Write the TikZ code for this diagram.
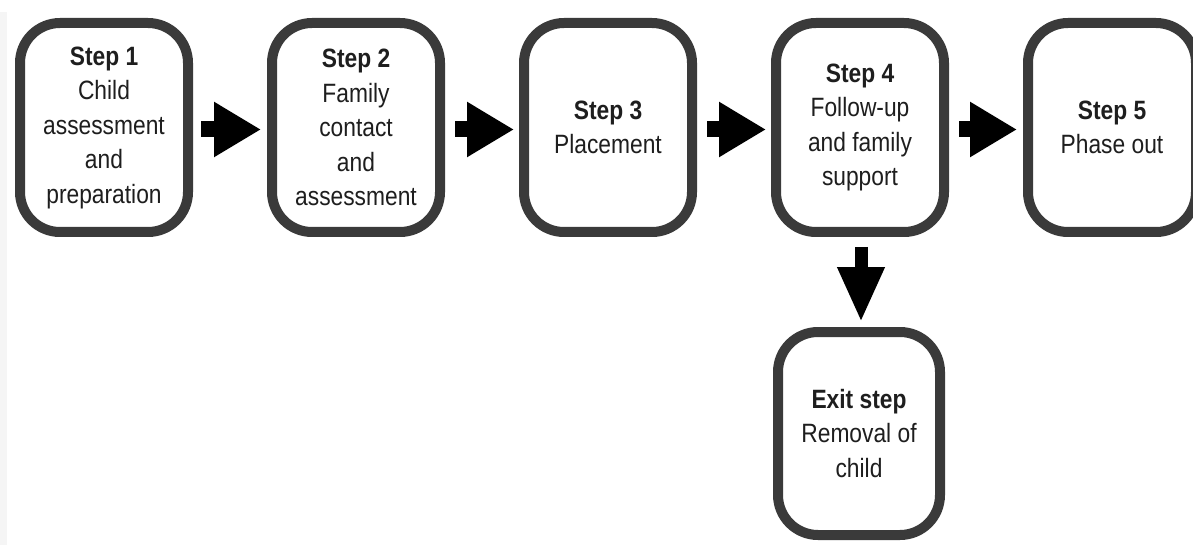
\documentclass[tikz,border=0pt]{standalone}
\usepackage{fontspec}
\setmainfont[FakeStretch=0.86]{Liberation Sans}
\usetikzlibrary{arrows.meta,calc}
\definecolor{boxgray}{HTML}{3A3A3A}
\definecolor{textgray}{HTML}{1E1E1E}
\begin{document}
\begin{tikzpicture}[x=1pt,y=-1pt,
  stepbox/.style={draw=boxgray, line width=10pt, rounded corners=40pt, fill=white,
    minimum width=168pt, minimum height=209pt, align=center, inner sep=0pt,
    font=\fontsize{26.5}{34.5}\selectfont, text=textgray},
  exitbox/.style={stepbox, minimum width=162pt, minimum height=203pt},
  fatarrow/.style={line width=16pt, draw=black, -{Triangle[length=47pt,width=52pt]}},
  downarrow/.style={line width=13pt, draw=black, -{Triangle[length=55pt,width=44pt]}}
]
\useasboundingbox (0,0) rectangle (1193,545);
\fill[white] (0,0) rectangle (1193,545);
\fill[black!4] (0,12) rectangle (7,545);

\node[stepbox] (s1) at (104,127.5) {\bfseries Step 1\\Child\\assessment\\and\\preparation};
\node[stepbox] (s2) at (356,127.5) {\bfseries Step 2\\Family\\contact\\and\\assessment};
\node[stepbox] (s3) at (608,127.5) {\bfseries Step 3\\Placement};
\node[stepbox] (s4) at (860,127.5) {\bfseries Step 4\\Follow-up\\and family\\support};
\node[stepbox] (s5) at (1112,127.5) {\bfseries Step 5\\Phase out};
\node[exitbox] (ex) at (859,433.5) {\bfseries Exit step\\Removal of\\child};

\draw[fatarrow] ($(s1.east)+(8,2)$) -- ($(s2.west)+(-6,2)$);
\draw[fatarrow] ($(s2.east)+(10,2)$) -- ($(s3.west)+(-5,2)$);
\draw[fatarrow] ($(s3.east)+(10,2)$) -- ($(s4.west)+(-5,2)$);
\draw[fatarrow] ($(s4.east)+(10,2)$) -- ($(s5.west)+(-6,2)$);
\draw[downarrow] ($(s4.south)+(1,10)$) -- ($(s4.south |- ex.north)+(1,-5)$);
\end{tikzpicture}
\end{document}
